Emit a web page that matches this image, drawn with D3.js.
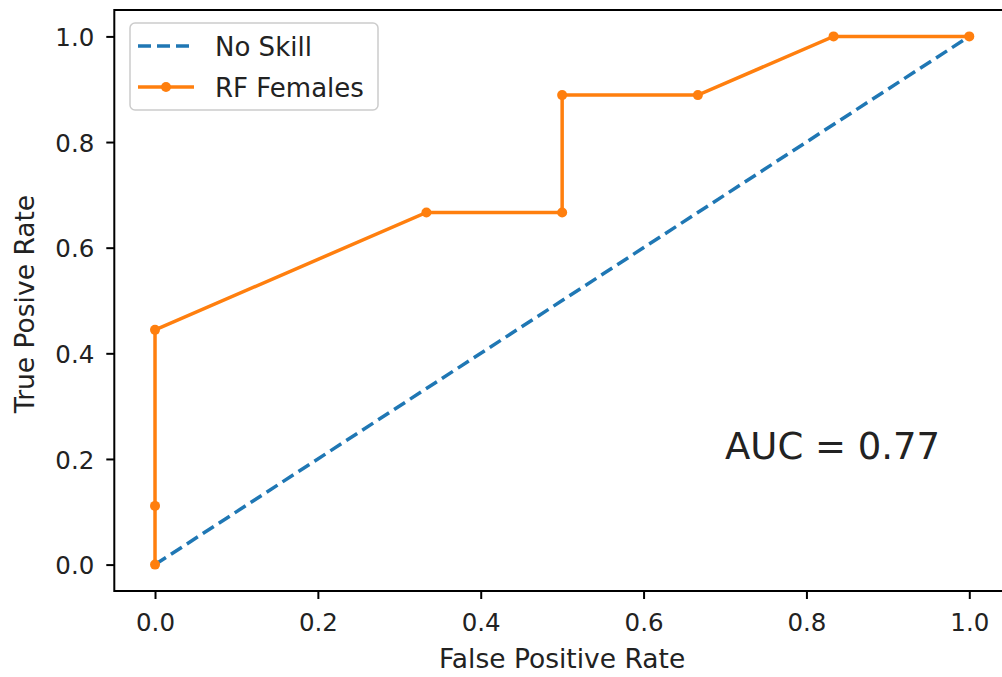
<!DOCTYPE html>
<html>
<head>
<meta charset="utf-8">
<script src="https://cdn.jsdelivr.net/npm/d3@7"></script>
<style>
  body { margin: 0; background: #fff; }
  svg { display: block; font-family: 'DejaVu Sans', sans-serif; }
</style>
</head>
<body>
<div id="main"></div>
<script>
// ROC points
var fpr = [0, 0, 0, 0.3333, 0.5, 0.5, 0.6667, 0.8333, 1.0];
var tpr = [0, 0.1111, 0.4444, 0.6667, 0.6667, 0.8889, 0.8889, 1.0, 1.0];
var skillX = [0, 1];
var skillY = [0, 1];
var ticks = [0.0, 0.2, 0.4, 0.6, 0.8, 1.0];
var legendLabels = ['No Skill', 'RF Females'];
var aucText = 'AUC = 0.77';

function Sketch() {
  this.width = 1002;
  this.height = 677;
  this.box = {left: 114.3, right: 1010, top: 10, bottom: 591};
}

Sketch.prototype.init = function() {
  this.svg = d3.select('#main')
    .append('svg')
    .attr('width', this.width)
    .attr('height', this.height);

  this.x = d3.scaleLinear().domain([-0.05, 1.05]).range([this.box.left, this.box.right]);
  this.y = d3.scaleLinear().domain([-0.05, 1.05]).range([this.box.bottom, this.box.top]);
};

Sketch.prototype.render = function() {
  var x = this.x, y = this.y, b = this.box, svg = this.svg;

  // axes
  var xAxis = svg.append('g')
    .attr('transform', 'translate(0,' + b.bottom + ')')
    .call(d3.axisBottom(x).tickValues(ticks).tickFormat(d3.format('.1f')).tickSize(8).tickPadding(9));
  var yAxis = svg.append('g')
    .attr('transform', 'translate(' + b.left + ',0)')
    .call(d3.axisLeft(y).tickValues(ticks).tickFormat(d3.format('.1f')).tickSize(8).tickPadding(12));

  [xAxis, yAxis].forEach(function(a) {
    a.select('.domain').remove();
    a.selectAll('line').attr('stroke', '#000').attr('stroke-width', 2);
    a.selectAll('text')
      .attr('font-family', 'DejaVu Sans')
      .attr('font-size', 24.5)
      .attr('fill', '#222');
  });
  xAxis.selectAll('text').attr('dy', '0.95em');
  yAxis.selectAll('text').attr('dy', '0.38em');

  // lines
  var noSkill = skillX.map(function(d, i) { return [d, skillY[i]]; });
  var roc = fpr.map(function(d, i) { return [d, tpr[i]]; });
  var line = d3.line()
    .x(function(d) { return x(d[0]); })
    .y(function(d) { return y(d[1]); });

  svg.append('path')
    .datum(noSkill)
    .attr('d', line)
    .attr('fill', 'none')
    .attr('stroke', '#1f77b4')
    .attr('stroke-width', 3.5)
    .attr('stroke-dasharray', '13,6');

  svg.append('path')
    .datum(roc)
    .attr('d', line)
    .attr('fill', 'none')
    .attr('stroke', '#ff7f0e')
    .attr('stroke-width', 3.5);

  svg.selectAll('circle.pt')
    .data(roc)
    .enter()
    .append('circle')
    .attr('class', 'pt')
    .attr('cx', function(d) { return x(d[0]); })
    .attr('cy', function(d) { return y(d[1]); })
    .attr('r', 5)
    .attr('fill', '#ff7f0e');

  // frame
  svg.append('rect')
    .attr('x', b.left)
    .attr('y', b.top)
    .attr('width', b.right - b.left)
    .attr('height', b.bottom - b.top)
    .attr('fill', 'none')
    .attr('stroke', '#000')
    .attr('stroke-width', 2);

  // AUC annotation
  svg.append('text')
    .attr('x', x(0.7))
    .attr('y', y(0.2))
    .attr('font-size', 37)
    .attr('fill', '#222')
    .text(aucText);

  // axis labels
  svg.append('text')
    .attr('x', (b.left + b.right) / 2)
    .attr('y', 668)
    .attr('text-anchor', 'middle')
    .attr('font-size', 26.5)
    .attr('fill', '#222')
    .text('False Positive Rate');

  svg.append('text')
    .attr('transform', 'translate(34,304) rotate(-90)')
    .attr('text-anchor', 'middle')
    .attr('font-size', 26.5)
    .attr('fill', '#222')
    .text('True Posive Rate');

  // legend
  var lg = svg.append('g');
  lg.append('rect')
    .attr('x', 130).attr('y', 23)
    .attr('width', 248).attr('height', 87)
    .attr('rx', 5)
    .attr('fill', '#fff').attr('fill-opacity', 0.8)
    .attr('stroke', '#ccc').attr('stroke-width', 1.5);

  lg.append('line')
    .attr('x1', 138).attr('x2', 192)
    .attr('y1', 46).attr('y2', 46)
    .attr('stroke', '#1f77b4').attr('stroke-width', 3.5)
    .attr('stroke-dasharray', '13,6');
  lg.append('line')
    .attr('x1', 138).attr('x2', 194)
    .attr('y1', 87).attr('y2', 87)
    .attr('stroke', '#ff7f0e').attr('stroke-width', 3.5);
  lg.append('circle')
    .attr('cx', 166).attr('cy', 87).attr('r', 5)
    .attr('fill', '#ff7f0e');

  lg.selectAll('text.lab')
    .data(legendLabels)
    .enter()
    .append('text')
    .attr('class', 'lab')
    .attr('x', 215)
    .attr('y', function(d, i) { return 56 + i * 41; })
    .attr('font-size', 26)
    .attr('fill', '#222')
    .text(function(d) { return d; });
};

document.addEventListener('DOMContentLoaded', function() {
  var s = new Sketch();
  s.init();
  s.render();
});
</script>
</body>
</html>
